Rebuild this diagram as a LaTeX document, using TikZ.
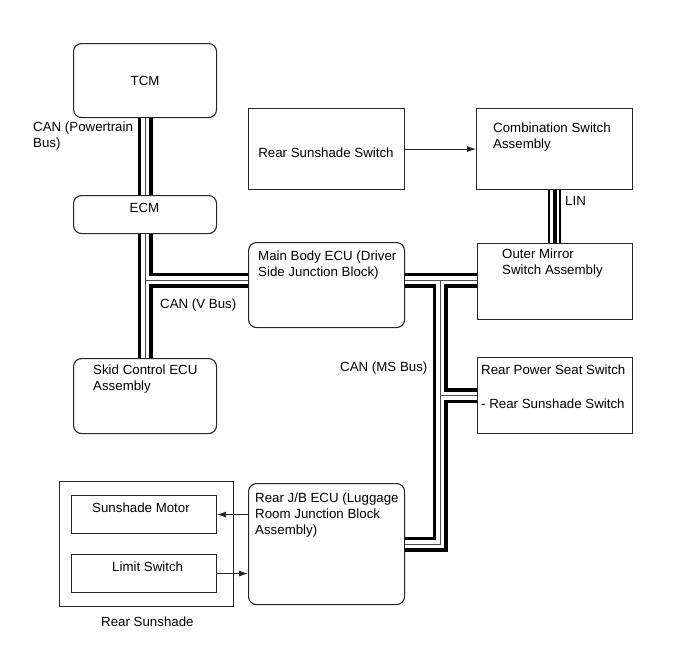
\documentclass[tikz,border=0pt]{standalone}
\usepackage{fontspec}
\setmainfont{Liberation Sans}
\usetikzlibrary{calc,positioning,arrows.meta}

\begin{document}
\begin{tikzpicture}[x=1pt, y=-1pt, line cap=round,
  font=\fontsize{13.3}{16}\selectfont,
  ecu/.style={draw=black!85, line width=1.1pt, rounded corners=8pt, anchor=north west, inner sep=0pt},
  swbox/.style={draw=black!85, line width=1.1pt, anchor=north west, inner sep=0pt},
  txt/.style={anchor=north west, align=left, inner sep=0pt},
  lbl/.style={anchor=base west, inner sep=0pt},
  sig/.style={draw=black!85, line width=0.8pt, -{Latex[length=9pt,width=6pt]}},
  busout/.style={line width=15pt, black, line cap=butt, line join=miter},
  busin/.style={line width=8pt, white, line cap=butt, line join=miter},
  buscore/.style={line width=0.8pt, black!70, line cap=butt, line join=miter},
  linout/.style={line width=13pt, black, line cap=butt},
  linin/.style={line width=9pt, white, line cap=butt},
  lincore/.style={line width=4pt, black, line cap=butt}]

  \useasboundingbox (0,0) rectangle (689,659);

  % control units
  \node[ecu, minimum width=143pt, minimum height=74pt] (tcm) at (73,43) {TCM};
  \node[ecu, minimum width=143pt, minimum height=38pt] (ecm) at (73,195) {};
  \node[ecu, minimum width=143pt, minimum height=75pt] (skid) at (73,358) {};
  \node[ecu, minimum width=156pt, minimum height=85pt] (mb) at (248,242) {};
  \node[ecu, minimum width=156pt, minimum height=121pt] (jb) at (248,483) {};

  % switches
  \node[swbox, minimum width=156pt, minimum height=81pt] (rss) at (248,108) {};
  \node[swbox, minimum width=156pt, minimum height=81pt] (comb) at (476,108) {};
  \node[swbox, minimum width=155pt, minimum height=76pt] (om) at (477,243) {};
  \node[swbox, minimum width=155pt, minimum height=76pt] (rps) at (477,357) {};
  \node[swbox, minimum width=174pt, minimum height=125pt] (shade) at (59,481) {};
  \node[swbox, minimum width=145pt, minimum height=38pt] (smot) at (71,495) {};
  \node[swbox, minimum width=145pt, minimum height=38pt] (lsw) at (71,554) {};

  % texts
  \node[anchor=base, inner sep=0pt] (ecmtxt) at (144.5,212) {ECM};
  \node[txt] (skidtxt) at (93,365) {Skid Control ECU\\Assembly};
  \node[txt] (mbtxt) at (258,251) {Main Body ECU (Driver\\Side Junction Block)};
  \node[txt] (jbtxt) at (255,493) {Rear J/B ECU (Luggage\\Room Junction Block\\Assembly)};
  \node[anchor=base, inner sep=0pt] (rsstxt) at (326,157) {Rear Sunshade Switch};
  \node[txt] (combtxt) at (493,123) {Combination Switch\\Assembly};
  \node[txt] (omtxt) at (502,249) {Outer Mirror\\Switch Assembly};
  \node[txt] (rpstxt) at (481,365) {Rear Power Seat Switch\\[18pt]- Rear Sunshade Switch};
  \node[lbl] (smottxt) at (92,512) {Sunshade Motor};
  \node[lbl] (lswtxt) at (112,571) {Limit Switch};
  \node[lbl] (shadetxt) at (101,626) {Rear Sunshade};

  % bus labels
  \node[txt] (ptlbl) at (33,122) {CAN (Powertrain\\Bus)};
  \node[lbl] (vlbl) at (160,308) {CAN (V Bus)};
  \node[lbl] (mslbl) at (340,371) {CAN (MS Bus)};
  \node[lbl] (linlbl) at (565,205) {LIN};

  \coordinate (vj) at (144.5,280);
  \coordinate (hj) at (440,280);

  % CAN bus lines
  \foreach \layer in {busout,busin,buscore}{
    \draw[\layer] (tcm.south) -- (ecm.north)
      (ecm.south) -- (skid.north)
      (vj) -- (vj -| mb.west)
      (mb.east |- hj) -- (om.west |- hj)
      (hj) -- (hj |- jb.east) -- (jb.east)
      (hj |- rps.west) -- (rps.west);
  }

  % LIN line
  \foreach \layer in {linout,linin,lincore}{
    \draw[\layer] (comb.south) -- (comb.south |- om.north);
  }

  % signal lines
  \draw[sig] (rss.east) -- (comb.west);
  \draw[sig] (jb.west |- smot.east) -- (smot.east);
  \draw[sig] (lsw.east) -- (jb.west |- lsw.east);
\end{tikzpicture}
\end{document}
